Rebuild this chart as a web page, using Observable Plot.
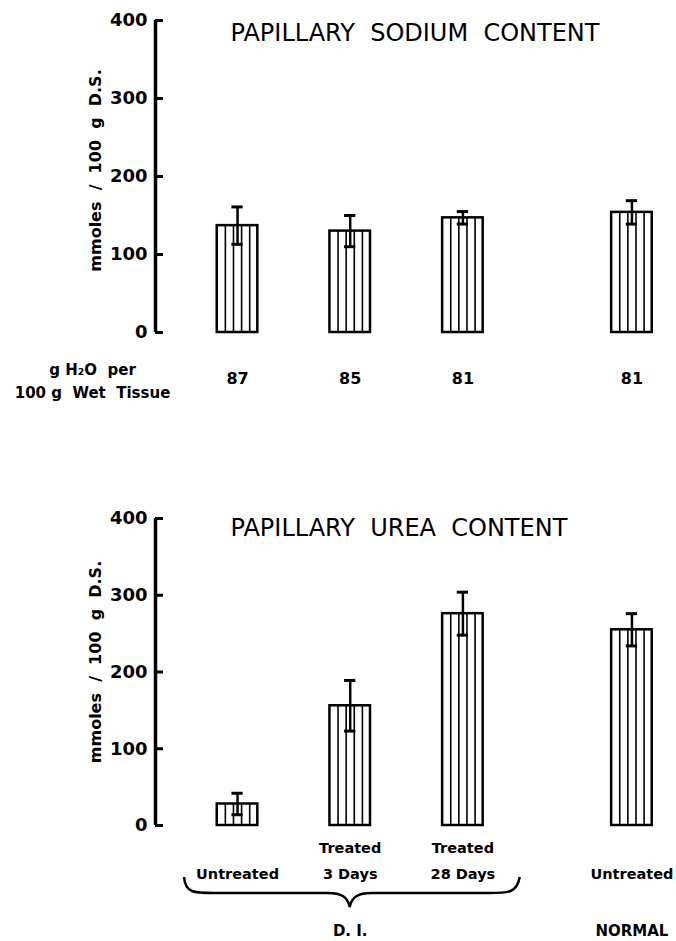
<!DOCTYPE html>
<html><head><meta charset="utf-8">
<script src="https://cdn.jsdelivr.net/npm/d3@7"></script>
<script src="https://cdn.jsdelivr.net/npm/@observablehq/plot@0.6"></script>
<style>
body{margin:0;background:#fff;}
#wrap{width:676px;}
#wrap svg{display:block;}
</style></head><body><div id="wrap"></div>
<script>
// ---- data ----
const groups = ["D.I.", "D.I.", "D.I.", "NORMAL"];
const treatmentLine1 = ["", "Treated", "Treated", ""];
const treatmentLine2 = ["Untreated", "3 Days", "28 Days", "Untreated"];
const sodiumMean = [137, 130, 147, 154];
const sodiumSE = [24, 20, 8, 15];
const waterContent = ["87", "85", "81", "81"];
const ureaMean = [28, 156, 276, 255];
const ureaSE = [14, 33, 28, 21];
const yTicks = [0, 100, 200, 300, 400];
const yLabel = "mmoles\u00a0 /\u00a0 100\u00a0 g\u00a0 D.S.";
const sodiumTitle = "PAPILLARY\u00a0\u00a0SODIUM\u00a0\u00a0CONTENT";
const ureaTitle = "PAPILLARY\u00a0\u00a0UREA\u00a0\u00a0CONTENT";
const waterLabel = "g H\u2082O\u00a0 per\n100 g\u00a0 Wet\u00a0 Tissue";

// ---- layout helpers ----
const groupGap = 1.5;
const slots = (() => { const s = []; let p = -1, prev = null;
  groups.forEach(g => { p += prev === null ? 1 : (g === prev ? 1 : groupGap); s.push(p); prev = g; });
  return s; })();
const halfW = 0.18, capHalf = 0.05;
const xDomain = [-0.728, 3.86];
const FONT = "DejaVu Sans";

function rowsFor(mean, se) {
  return mean.map((m, i) => ({slot: slots[i], mean: m, se: se[i], lo: m - se[i], hi: m + se[i],
    water: waterContent[i], l1: treatmentLine1[i], l2: treatmentLine2[i], group: groups[i]}));
}
function stripesFor(rows) {
  const out = [];
  rows.forEach(r => { for (let k = 1; k <= 4; k++) out.push({x: r.slot - halfW + k * (2 * halfW) / 5, mean: r.mean}); });
  return out;
}
function baseMarks(rows, title, titleDy, labelDy) {
  return [
    Plot.rectY(rows, {x1: d => d.slot - halfW, x2: d => d.slot + halfW, y1: 0, y2: "mean", fill: "white", stroke: "black", strokeWidth: 2.5}),
    Plot.ruleX(stripesFor(rows), {x: "x", y1: 0, y2: "mean", stroke: "black", strokeWidth: 1.6}),
    Plot.ruleX(rows, {x: "slot", y1: "lo", y2: "hi", stroke: "black", strokeWidth: 2.5}),
    Plot.ruleY(rows, {y: "hi", x1: d => d.slot - capHalf, x2: d => d.slot + capHalf, stroke: "black", strokeWidth: 3}),
    Plot.ruleY(rows, {y: "lo", x1: d => d.slot - capHalf, x2: d => d.slot + capHalf, stroke: "black", strokeWidth: 3}),
    Plot.ruleX([xDomain[0]], {stroke: "black", strokeWidth: 3.5}),
    // tick marks pointing right of the axis line
    Plot.axisY(yTicks, {anchor: "left", tickSize: 8, dx: 8, strokeWidth: 3, tickFormat: () => "", label: null}),
    // tick labels
    Plot.axisY(yTicks, {anchor: "left", tickSize: 0, tickPadding: 8, fontSize: 18, fontWeight: "bold", label: null, fill: "black"}),
    Plot.text([title], {frameAnchor: "top-left", dx: 75, dy: titleDy, textAnchor: "start", lineAnchor: "middle", fontSize: 24, fill: "black"}),
    Plot.text([yLabel], {frameAnchor: "left", dx: -60, dy: labelDy, rotate: -90, textAnchor: "middle", lineAnchor: "middle", fontSize: 16, fontWeight: "bold", fill: "black"})
  ];
}

// ---- top chart: sodium ----
const sodiumRows = rowsFor(sodiumMean, sodiumSE);
const sodiumChart = Plot.plot({
  width: 676, height: 470, marginLeft: 155, marginRight: 4, marginTop: 20, marginBottom: 138,
  x: {domain: xDomain, axis: null},
  y: {domain: [0, 400]},
  style: {fontFamily: FONT, background: "white", overflow: "visible", color: "black"},
  marks: [
    ...baseMarks(sodiumRows, sodiumTitle, 13, -6),
    Plot.text(sodiumRows, {x: "slot", text: "water", frameAnchor: "bottom", lineAnchor: "middle", dy: 46, fontSize: 16, fontWeight: "bold", fill: "black"}),
    Plot.text([waterLabel], {frameAnchor: "bottom-left", dx: -63, dy: 47, textAnchor: "middle", lineAnchor: "middle", lineHeight: 1.5, fontSize: 15, fontWeight: "bold", fill: "black"})
  ]
});

// ---- bottom chart: urea ----
const ureaRows = rowsFor(ureaMean, ureaSE);
const groupNames = [...new Set(groups)];
const groupRows = groupNames.map(g => {
  const s = ureaRows.filter(r => r.group === g).map(r => r.slot);
  return {group: g, first: d3.min(s), last: d3.max(s), mid: d3.mean(s), n: s.length};
});
const braceMark = (index, scales, values, dimensions) => {
  const x = scales.x;
  const yb = dimensions.height - dimensions.marginBottom;
  const g = d3.create("svg:g");
  groupRows.filter(d => d.n > 1).forEach(d => {
    const xL = x(d.first - 0.47), xR = x(d.last + 0.5), xm = x(d.mid);
    const yT = yb + 52, yL = yb + 68, yTip = yb + 82;
    const p = `M${xL},${yT} C${xL + 1},${yL} ${xL + 10},${yL} ${xL + 30},${yL} L${xm - 22},${yL} C${xm - 8},${yL} ${xm - 2},${yL + 4} ${xm},${yTip} C${xm + 2},${yL + 4} ${xm + 8},${yL} ${xm + 22},${yL} L${xR - 30},${yL} C${xR - 10},${yL} ${xR - 2},${yL} ${xR + 1},${yT}`;
    g.append("path").attr("d", p).attr("fill", "none").attr("stroke", "black").attr("stroke-width", 2.5);
  });
  return g.node();
};
const ureaChart = Plot.plot({
  width: 676, height: 471, marginLeft: 155, marginRight: 4, marginTop: 48, marginBottom: 116,
  x: {domain: xDomain, axis: null},
  y: {domain: [0, 400]},
  style: {fontFamily: FONT, background: "white", overflow: "visible", color: "black"},
  marks: [
    ...baseMarks(ureaRows, ureaTitle, 10, -10),
    Plot.text(ureaRows, {x: "slot", text: d => d.l1 ? d.l1 + "\n" + d.l2 : d.l2, frameAnchor: "bottom", lineAnchor: "bottom", dy: 53, lineHeight: 1.75, fontSize: 14.5, fontWeight: "bold", fill: "black"}),
    braceMark,
    Plot.text(groupRows, {x: "mid", text: d => d.group === "D.I." ? "D. I." : d.group, frameAnchor: "bottom", lineAnchor: "middle", dy: 106, fontSize: 15, fontWeight: "bold", fill: "black"})
  ]
});

document.getElementById("wrap").append(sodiumChart, ureaChart);
</script>
</body></html>
